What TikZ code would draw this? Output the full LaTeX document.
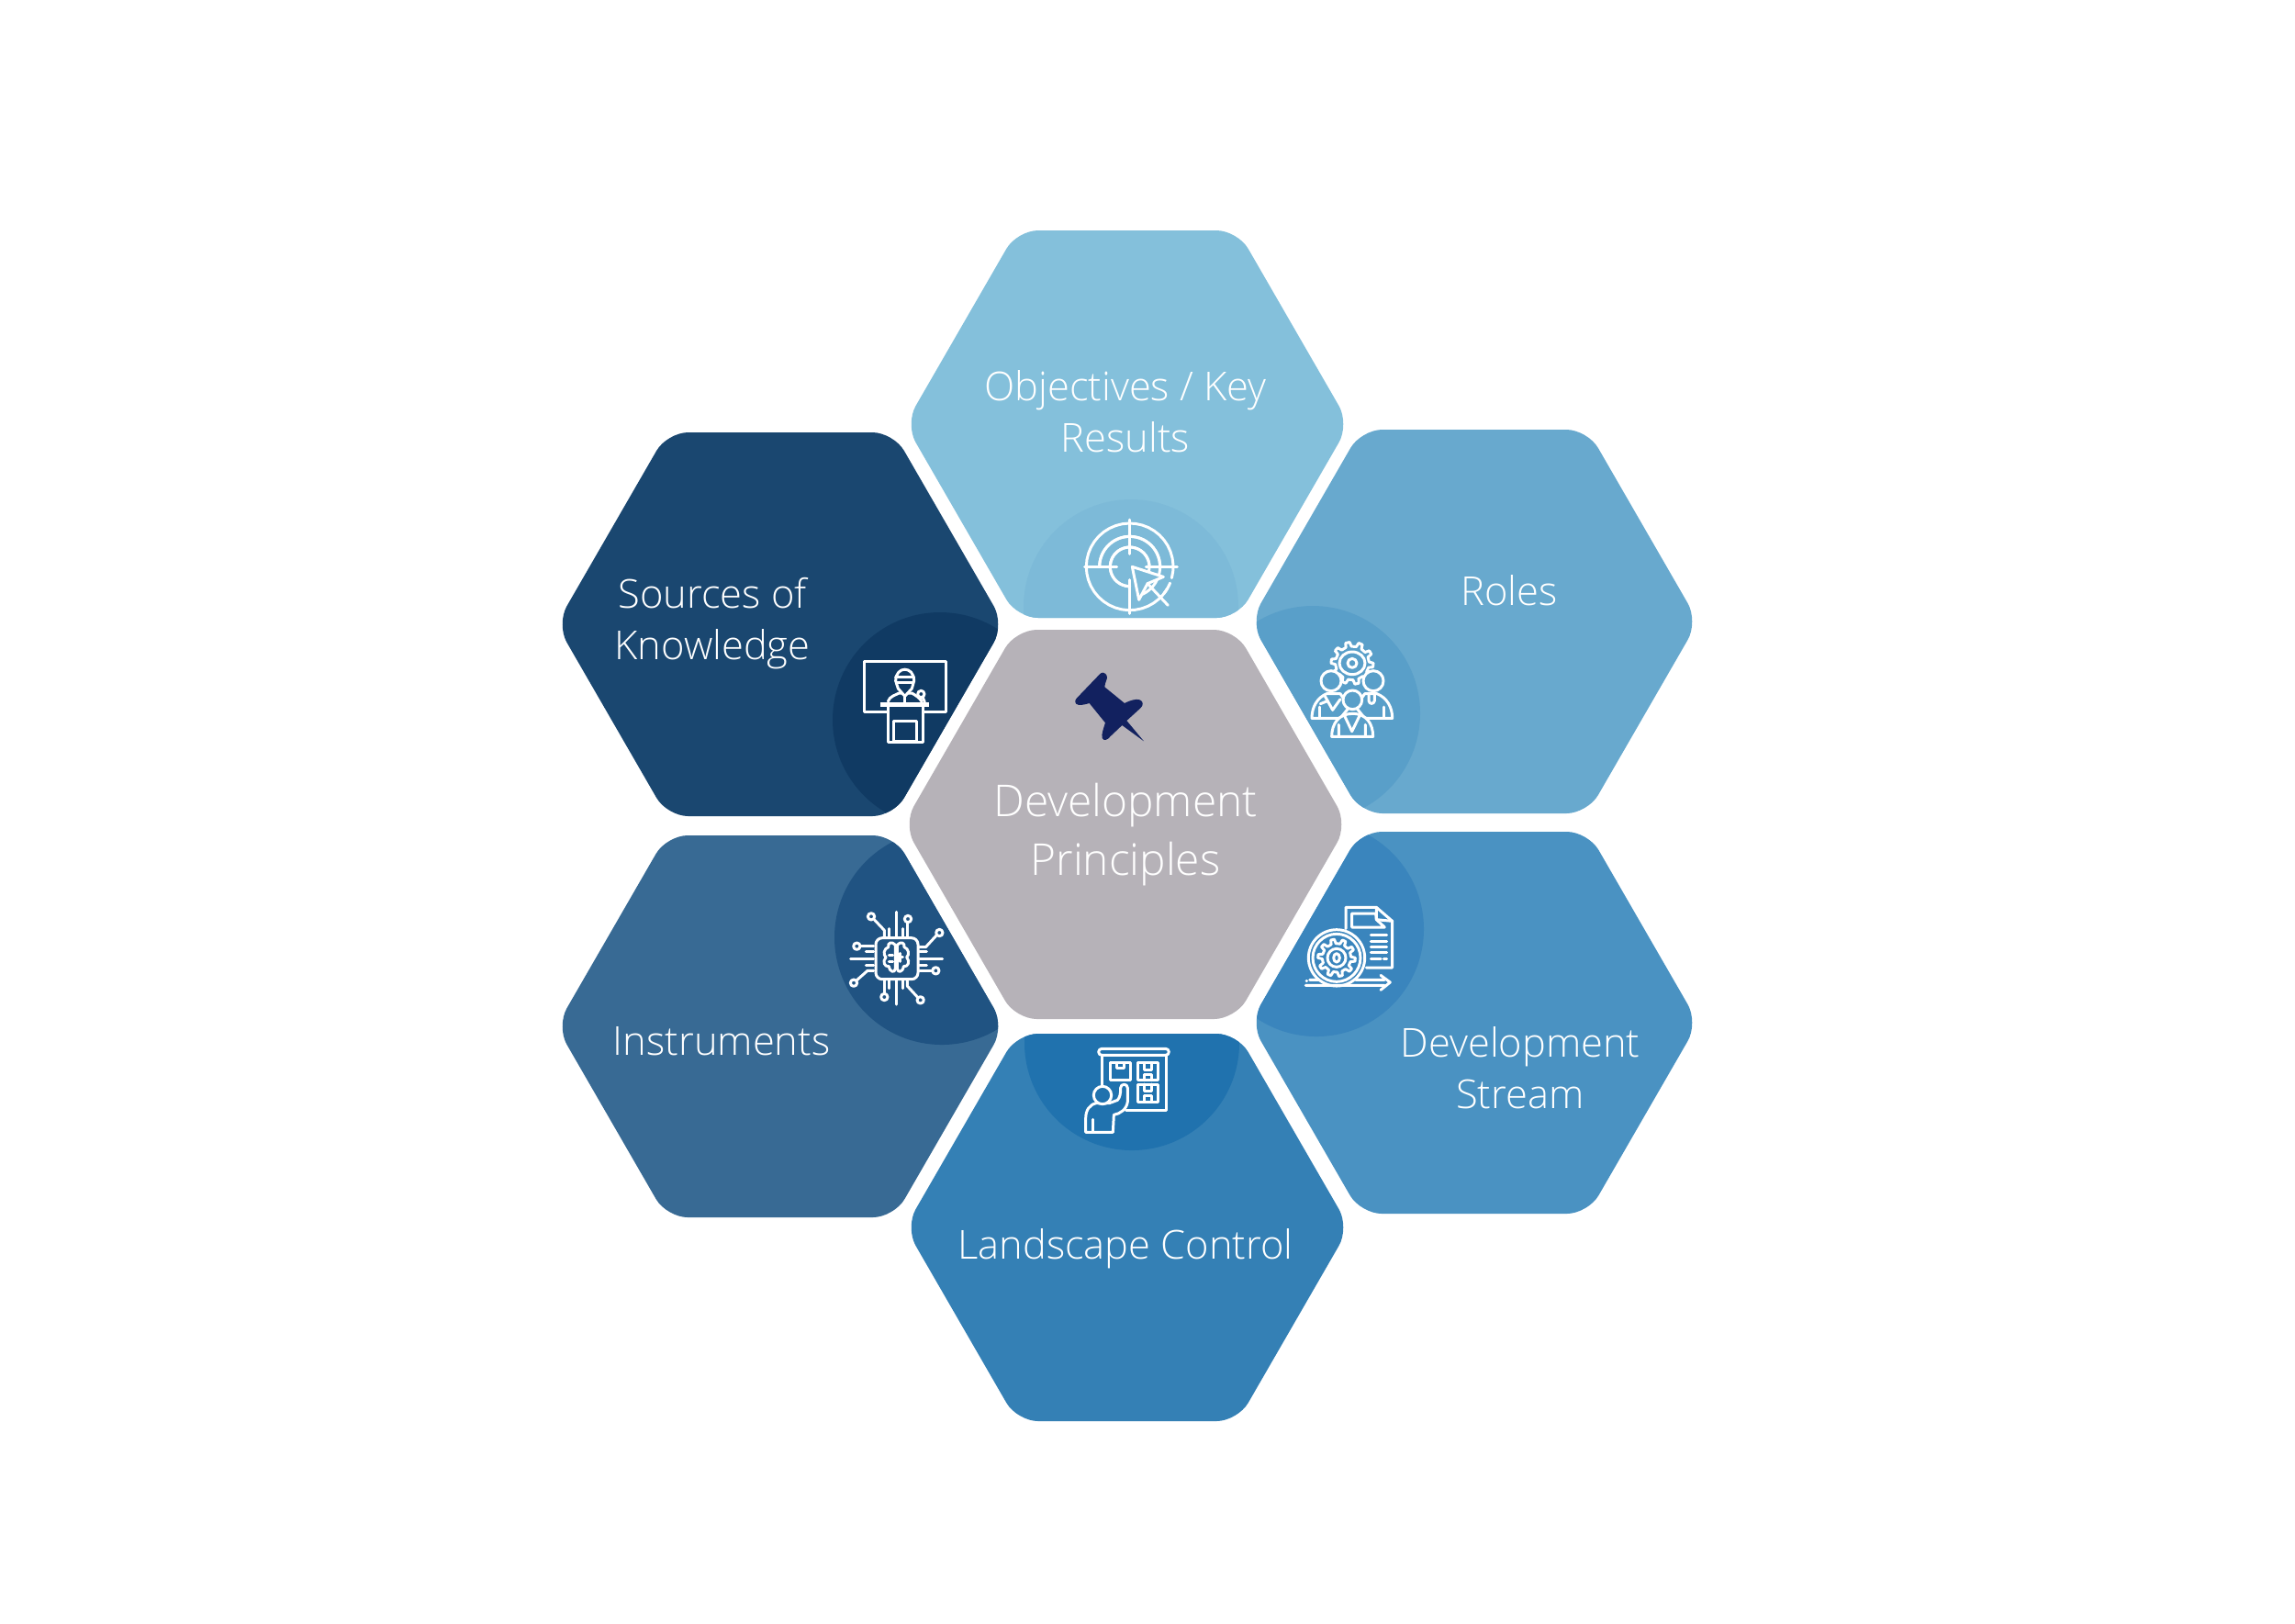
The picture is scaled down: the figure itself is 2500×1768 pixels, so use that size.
\documentclass[tikz,border=0pt]{standalone}
\usepackage{fontspec}
\setmainfont{Open Sans}[UprightFont=* Light]
\definecolor{hexA}{HTML}{84C0DB}\definecolor{cirA}{HTML}{7DBAD8}
\definecolor{hexB}{HTML}{68A9CE}\definecolor{cirB}{HTML}{599FC9}
\definecolor{hexC}{HTML}{4A92C2}\definecolor{cirC}{HTML}{3A85BD}
\definecolor{hexD}{HTML}{3480B5}\definecolor{cirD}{HTML}{2072AE}
\definecolor{hexE}{HTML}{386A94}\definecolor{cirE}{HTML}{205382}
\definecolor{hexF}{HTML}{1A4770}\definecolor{cirF}{HTML}{103A63}
\definecolor{hexG}{HTML}{B6B2B8}\definecolor{pinblue}{HTML}{12215F}
\newcommand\hexpath[4]{(#1-#3,#2) -- (#1-#3+#4*0.57735,#2-#4) -- (#1+#3-#4*0.57735,#2-#4) -- (#1+#3,#2) -- (#1+#3-#4*0.57735,#2+#4) -- (#1-#3+#4*0.57735,#2+#4) -- cycle}
% cx cy W H hexcolour ccx ccy circlecolour
\newcommand\hexcell[8]{%
  \fill[#5,rounded corners=0.23cm] \hexpath{#1}{#2}{#3}{#4};
  \begin{scope}
    \clip[rounded corners=0.23cm] \hexpath{#1}{#2}{#3}{#4};
    \fill[#8] (#6,#7) circle[radius=117];
  \end{scope}}
\newcommand\ringarc[5]{\draw[iconline] plot[domain=#4:#5,samples=40] ({#1+#3*cos(\x)},{#2+#3*sin(\x)});}
\newcommand\cogwheel[6]{% cx cy Rout Rin teeth fill
  \draw[iconline,fill=#6] ({#1+#3*cos(0)},{#2+#3*sin(0)})
   \foreach \i in {1,...,#5}{
     -- ({#1+#3*cos((\i-1+0.3)*360/#5)},{#2+#3*sin((\i-1+0.3)*360/#5)})
     -- ({#1+#4*cos((\i-1+0.42)*360/#5)},{#2+#4*sin((\i-1+0.42)*360/#5)})
     -- ({#1+#4*cos((\i-1+0.88)*360/#5)},{#2+#4*sin((\i-1+0.88)*360/#5)})
     -- ({#1+#3*cos(\i*360/#5)},{#2+#3*sin(\i*360/#5)})
   } -- cycle;}
\tikzset{
  iconline/.style={draw=white,line width=0.85pt,line cap=round,line join=round},
  lab/.style={text=white,align=center,font=\fontsize{12.35}{16.1}\selectfont,inner sep=0pt},
  labbig/.style={text=white,align=center,font=\fontsize{13.6}{18.1}\selectfont,inner sep=0pt},
  zoomed/.style={scale=0.33333}
}
\begin{document}
\begin{tikzpicture}[x=0.01cm,y=-0.01cm]
\useasboundingbox (0,0) rectangle (2500,1768);
\hexcell{1228}{462}{242}{211}{hexA}{1232}{661}{cirA}
\hexcell{1606}{677}{244}{209}{hexB}{1430}{777}{cirB}
\hexcell{1606}{1114}{244}{208}{hexC}{1434}{1012}{cirC}
\hexcell{1228}{1337}{242}{211}{hexD}{1233}{1136}{cirD}
\hexcell{850}{1118}{244}{208}{hexE}{1026}{1021}{cirE}
\hexcell{850}{680}{244}{209}{hexF}{1024}{784}{cirF}
\fill[hexG,rounded corners=0.23cm] \hexpath{1226}{898}{242}{212};

\node[lab] (okr) at (1226,448) {Objectives / Key\\Results};
\node[lab] (roles) at (1644,643) {Roles};
\node[lab] (stream) at (1656,1163) {Development\\Stream};
\node[lab] (landscape) at (1226,1360) {Landscape Control};
\node[lab] (instr) at (786,1134) {Instruments};
\node[lab] (sources) at (776,679) {Sources of\\Knowledge};
\node[labbig] (principles) at (1226,909) {Development\\Principles};

% pin
\begin{scope}[shift={(1150,710)},zoomed]
\fill[pinblue] (155,68) .. controls (168,70) and (170,85) .. (166,92) .. controls (163,100) and (160,108) .. (160,115)
 -- (225,168) .. controls (240,160) and (262,152) .. (275,157) .. controls (287,162) and (287,175) .. (277,184)
 -- (232,225) -- (288,292) -- (217,240) -- (180,275) .. controls (170,288) and (157,293) .. (152,282) .. controls (148,270) and (158,245) .. (162,232)
 -- (110,168) .. controls (95,172) and (75,178) .. (67,170) .. controls (60,162) and (65,155) .. (72,148) -- (143,74) .. controls (147,70) and (150,67) .. (155,68) -- cycle;
\end{scope}

% target icon
\begin{scope}[shift={(1150,540)},zoomed]
\draw[iconline] (242,78) -- (242,190) (242,275) -- (242,385) (95,232) -- (200,232) (295,232) -- (397,232);
\ringarc{242}{232}{142}{-330}{15}
\ringarc{242}{232}{142}{22}{38}
\ringarc{242}{232}{99}{-178}{-2}
\ringarc{242}{232}{99}{-178}{70}
\ringarc{242}{232}{64}{20}{-270}
\ringarc{242}{232}{64}{90}{360}
\draw[iconline,fill=cirA] (250,232) -- (352,265) -- (300,287) -- (272,340) -- cycle;
\draw[iconline] (300,287) -- (367,358);
\end{scope}

% roles icon
\begin{scope}[shift={(1380,660)},zoomed]
\cogwheel{279}{187}{69}{55}{10}{cirB}
\draw[iconline] (279,187) ellipse[x radius=42,y radius=37];
\draw[iconline] (279,187) circle[radius=15];
\draw[iconline,fill=cirB] (147,367) .. controls (147,330) and (165,300) .. (195,287) -- (240,287) -- (270,330) -- (240,367) -- cycle;
\draw[iconline,fill=cirB] (410,367) .. controls (410,330) and (392,300) .. (360,287) -- (320,287) -- (290,330) -- (320,367) -- cycle;
\draw[iconline] (172,367) -- (172,330) (383,367) -- (383,330);
\draw[iconline,fill=cirB] (210,245) circle[radius=33];
\draw[iconline,fill=cirB] (348,245) circle[radius=33];
\draw[iconline] (190,295) -- (215,340) -- (240,305) (175,320) -- (200,310);
\draw[iconline] (333,285) -- (333,310) .. controls (335,322) and (350,322) .. (352,310) -- (352,290);
\draw[iconline,fill=cirB] (212,427) .. controls (212,385) and (235,352) .. (280,352) .. controls (325,352) and (347,385) .. (347,427) -- cycle;
\draw[iconline] (235,427) -- (235,388) (322,427) -- (322,388) (252,355) -- (278,410) -- (305,355);
\draw[iconline,fill=cirB] (280,307) circle[radius=31];
\end{scope}

% presenter icon
\begin{scope}[shift={(880,650)},zoomed]
\draw[iconline] (185,212) rectangle (450,377);
\draw[iconline,fill=cirF] (262,352) -- (262,475) -- (375,475) -- (375,352) -- cycle;
\draw[iconline] (280,405) rectangle (355,472);
\draw[iconline,fill=cirF] (262,342) .. controls (268,325) and (285,322) .. (298,315) -- (340,315) .. controls (352,322) and (365,330) .. (372,342);
\fill[white] (238,344) rectangle (397,360);
\draw[iconline,fill=cirF] (287,275) .. controls (287,225) and (347,225) .. (347,275) -- (340,300) -- (317,325) -- (295,300) -- cycle;
\draw[iconline] (287,262) -- (347,262) (290,280) -- (344,280) (317,325) -- (317,345);
\draw[iconline] (370,318) circle[radius=11];
\draw[iconline] (375,328) -- (382,344);
\end{scope}

% stream icon
\begin{scope}[shift={(1380,960)},zoomed]
\draw[iconline] (258,155) -- (258,85) -- (358,85) -- (410,130) -- (410,282) -- (325,282);
\draw[iconline] (278,105) -- (356,105) -- (358,125) -- (385,150) -- (278,150) -- cycle;
\draw[iconline] (358,85) -- (358,125) -- (410,130);
\draw[iconline] (340,175) -- (392,175) (340,195) -- (392,195) (340,215) -- (392,215) (340,233) -- (392,233) (340,252) -- (372,252) (382,252) -- (392,252);
\draw[iconline,fill=cirC] (228,250) circle[radius=92];
\draw[iconline] (228,250) circle[radius=78];
\cogwheel{228}{250}{61}{47}{10}{cirC}
\draw[iconline] (228,250) circle[radius=30];
\draw[iconline] (228,250) ellipse[x radius=10,y radius=14];
\draw[iconline] (127,340) -- (385,340) (372,355) -- (403,330) -- (372,307) (140,322) -- (170,322) (290,322) -- (385,322);
\draw[iconline] (129,325) -- (131,325);
\end{scope}

% landscape icon
\begin{scope}[shift={(1130,1120)},zoomed]
\draw[iconline,rounded corners=1pt] (200,67) rectangle (430,88);
\draw[iconline] (210,195) -- (210,88) (420,88) -- (420,268) -- (290,268);
\draw[iconline] (237,113) rectangle (303,170);
\draw[iconline] (258,113) -- (258,130) -- (282,130) -- (282,113);
\draw[iconline] (327,113) rectangle (395,170) (327,183) rectangle (395,240);
\draw[iconline] (350,113) -- (350,135) -- (372,135) -- (372,113) (350,170) -- (350,150) -- (372,150) -- (372,170);
\draw[iconline] (350,183) -- (350,205) -- (372,205) -- (372,183) (350,240) -- (350,220) -- (372,220) -- (372,240);
\draw[iconline,fill=cirD] (158,340) -- (158,295) .. controls (158,268) and (170,250) .. (192,245) -- (235,245) -- (262,235) .. controls (270,225) and (272,215) .. (272,195) .. controls (272,180) and (295,180) .. (295,195) -- (295,240) .. controls (292,265) and (270,280) .. (250,283) -- (247,340) -- cycle;
\draw[iconline] (180,340) -- (180,298);
\draw[iconline,fill=cirD] (213,219) circle[radius=29];
\end{scope}

% chip icon
\begin{scope}[shift={(900,970)},zoomed]
\draw[iconline,rounded corners=2pt] (162,155) rectangle (300,290);
\draw[iconline] (228,70) -- (228,150) (205,125) -- (205,150) (250,125) -- (250,150) (265,105) -- (265,150);
\draw[iconline] (157,95) -- (190,130) -- (190,150);
\draw[iconline] (305,222) -- (380,222) (305,200) -- (328,200) (305,245) -- (328,245) (305,262) -- (347,262);
\draw[iconline] (360,147) -- (325,185) -- (305,185);
\draw[iconline] (228,295) -- (228,372) (205,295) -- (205,320) (250,295) -- (250,320) (190,295) -- (190,337);
\draw[iconline] (298,348) -- (265,312) -- (265,295);
\draw[iconline] (80,222) -- (155,222) (130,200) -- (155,200) (130,245) -- (155,245) (112,182) -- (155,182);
\draw[iconline] (100,293) -- (135,262) -- (155,262);
\foreach \cx/\cy in {147/85,267/93,370/138,358/262,190/348,308/358,100/182,90/302}
  \draw[iconline] (\cx,\cy) circle[radius=11];
% brain
\draw[iconline] (226,178) .. controls (215,165) and (200,170) .. (203,185) .. controls (188,190) and (185,210) .. (195,218) .. controls (183,232) and (190,250) .. (205,248) .. controls (208,268) and (225,270) .. (226,255) -- cycle;
\draw[iconline] (232,178) .. controls (243,165) and (258,170) .. (255,185) .. controls (270,190) and (273,210) .. (263,218) .. controls (275,232) and (268,250) .. (253,248) .. controls (250,268) and (233,270) .. (232,255) -- cycle;
\draw[iconline] (205,210) -- (218,210) (240,205) -- (240,232) (250,218) -- (240,218) (205,232) -- (218,232);
\end{scope}
\end{tikzpicture}
\end{document}
